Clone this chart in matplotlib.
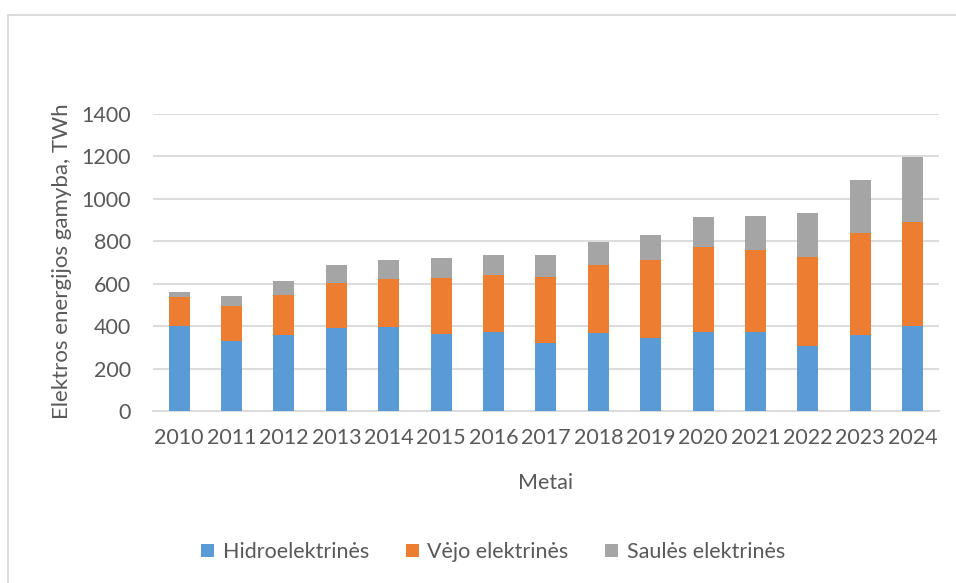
import numpy as np
from matplotlib import pyplot as plt
from matplotlib.lines import Line2D

# duomenys (TWh)
metai = ["2010", "2011", "2012", "2013", "2014", "2015", "2016", "2017",
         "2018", "2019", "2020", "2021", "2022", "2023", "2024"]
hidro = [401, 332, 359, 393, 397, 362, 373, 321, 370, 346, 375, 375, 306, 360, 403]
vejo_viso = [539, 497, 547, 605, 621, 625, 640, 633, 690, 713, 773, 760, 727, 840, 892]
viso = [563, 542, 613, 687, 710, 721, 735, 735, 798, 829, 912, 920, 934, 1089, 1197]

vejo = [v - h for v, h in zip(vejo_viso, hidro)]
saules = [t - v for t, v in zip(viso, vejo_viso)]

plt.rcParams['font.family'] = ['Lato', 'DejaVu Sans']
tekstas = "#595959"
tinklelis = "#d9d9d9"

fig = plt.figure(figsize=(9.56, 5.83), dpi=100)
ax = fig.add_axes([0.160, 0.2945, 0.822, 0.5105])

x = np.arange(len(metai))
w = 0.4
ax.bar(x, hidro, w, color="#5b9bd5", label="Hidroelektrinės", zorder=3)
ax.bar(x, vejo, w, bottom=hidro, color="#ed7d31", label="Vėjo elektrinės", zorder=3)
ax.bar(x, saules, w, bottom=vejo_viso, color="#a5a5a5", label="Saulės elektrinės", zorder=3)

ax.set_xlim(-0.5, len(metai) - 0.5)
ax.set_ylim(0, 1400)
ax.set_yticks(range(0, 1401, 200))
ax.set_xticks(x)
ax.set_xticklabels(metai)
ax.yaxis.grid(True, color=tinklelis, linewidth=1.3, zorder=0)
for s in ["top", "right", "left"]:
    ax.spines[s].set_visible(False)
ax.spines["bottom"].set_color(tinklelis)
ax.spines["bottom"].set_linewidth(1.3)
ax.tick_params(axis="both", length=0, labelsize=15.5, colors=tekstas)
ax.tick_params(axis="y", pad=16)
ax.tick_params(axis="x", pad=12)

ax.set_xlabel("Metai", fontsize=15.5, color=tekstas, labelpad=18)
ax.set_ylabel("Elektros energijos gamyba, TWh", fontsize=16, color=tekstas)
ax.yaxis.set_label_coords((72 - 153) / 786, 0.505)

leg = fig.legend(loc="center", bbox_to_anchor=(493 / 956, 1 - 552 / 583), ncol=3,
                 frameon=False, fontsize=15.5, handlelength=0.6, handleheight=0.6,
                 handletextpad=0.4, columnspacing=1.7)
for t in leg.get_texts():
    t.set_color(tekstas)

# rėmelis aplink diagramą
fig.add_artist(Line2D([8 / 956, 8 / 956], [0, 1 - 15 / 583], transform=fig.transFigure,
                      color=tinklelis, linewidth=1.3))
fig.add_artist(Line2D([8 / 956, 1], [1 - 15 / 583, 1 - 15 / 583], transform=fig.transFigure,
                      color=tinklelis, linewidth=1.3))

fig.savefig("out.png", dpi=100)
